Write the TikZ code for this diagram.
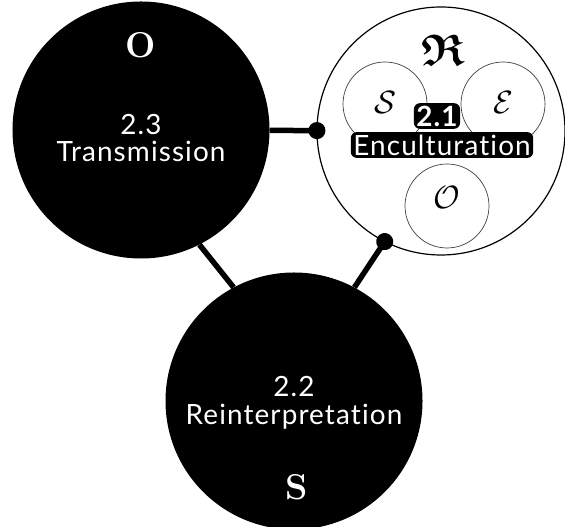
\documentclass[tikz,border=0pt]{standalone}
\usepackage{amssymb}
\usepackage{amsmath}
\usepackage{fontspec}
\newfontfamily\labelfont{Lato}[Ligatures=NoCommon,LetterSpace=4]
\usetikzlibrary{arrows.meta}

\begin{document}
\begin{tikzpicture}[x=1bp,y=1bp,>={Circle[length=17bp,width=17bp]},
	blackdisc/.style={circle,fill=black,minimum size=257bp,inner sep=0pt},
	smalldisc/.style={circle,draw=black!75,line width=0.7bp,minimum size=84bp,inner sep=0pt},
	wlabel/.style={text=white,font=\labelfont\fontsize{28}{33}\selectfont,align=center},
	boxlabel/.style={fill=black,text=white,rounded corners=6bp,inner sep=2.5bp,font=\labelfont\fontsize{28}{32}\selectfont},
	bigletter/.style={text=white,font=\fontsize{36}{40}\selectfont\bfseries},
	handletter/.style={font=\fontsize{24}{28}\selectfont,scale=1.3,transform shape},
	link/.style={line width=5.5bp}]
	\useasboundingbox (0,0) rectangle (565,527);
	
	%circles
	\node[blackdisc] (trans) at (141,397) {};
	\node[blackdisc] (reint) at (294,126) {};
	\node[circle,draw,fill=white,line width=1.2bp,minimum size=248bp,inner sep=0pt] (encul) at (441,396) {};
	\node[smalldisc] (sub-s) at (385,423) {};
	\node[smalldisc] (sub-e) at (503,423) {};
	\node[smalldisc] (sub-o) at (447,321) {};
	
	%labels
	\node[bigletter] (o-tag) at (141,482) {O};
	\node[wlabel] (trans-txt) at (141,389) {2.3\\[-5bp]Transmission};
	\node[bigletter] (s-tag) at (297,40) {S};
	\node[wlabel] (reint-txt) at (294,124) {2.2\\[-5bp]Reinterpretation};
	\node[font=\fontsize{24}{28}\selectfont,scale=1.85,transform shape] (r-tag) at (443,477) {$\boldsymbol{\mathfrak{R}}$};
	\node[handletter] (s-hand) at (385,425) {$\mathcal{S}$};
	\node[handletter] (e-hand) at (503,425) {$\mathcal{E}$};
	\node[handletter] (o-hand) at (447,330) {$\mathcal{O}$};
	\node[boxlabel,font=\labelfont\bfseries\fontsize{28}{32}\selectfont] (encul-num) at (437,411) {2.1};
	\node[boxlabel] (encul-txt) at (442,382) {Enculturation};
	
	%connectors
	\draw[link,->,shorten >=-9bp] (trans) -- (encul);
	\draw[link,->,shorten >=-9bp] (reint.62) -- (encul.243);
	\draw[link] (trans.-63) -- (reint.118);
\end{tikzpicture}
\end{document}
